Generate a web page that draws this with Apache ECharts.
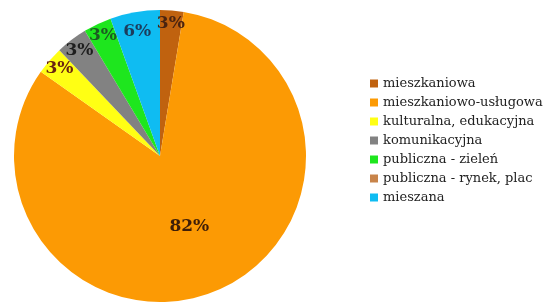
<!DOCTYPE html>
<html>
<head>
<meta charset="utf-8">
<script src="https://cdn.jsdelivr.net/npm/echarts@6/dist/echarts.min.js"></script>
<style>
  html, body { margin: 0; padding: 0; background: #fff; }
  #chart { width: 545px; height: 306px; }
</style>
</head>
<body>
<div id="chart"></div>
<script>
// kategorie i udzialy
var categories = ['mieszkaniowa', 'mieszkaniowo-usługowa', 'kulturalna, edukacyjna', 'komunikacyjna', 'publiczna - zieleń', 'publiczna - rynek, plac', 'mieszana'];
var values = [2.6, 82.2, 3.1, 3.5, 3.1, 0, 5.5];
var labels = ['3%', '82%', '3%', '3%', '3%', '', '6%'];
var colors = ['#c0620f', '#fc9a04', '#ffff14', '#828282', '#1ee61e', '#c8844a', '#0fbcf2'];
var labelColors = ['#4a2410', '#3e1e08', '#6a2412', '#1e1e1e', '#1c5a22', '', '#1c3c5c'];

var chart = echarts.init(document.getElementById('chart'));

// glowny wykres kolowy
var mainData = categories.map(function (name, i) {
  return {
    name: name,
    value: values[i],
    itemStyle: { color: colors[i] },
    label: { show: i === 1, formatter: labels[i], color: labelColors[i] }
  };
});

// przezroczysta warstwa tylko do etykiet malych wycinkow (blizej krawedzi)
var labelData = categories.map(function (name, i) {
  return {
    name: name,
    value: values[i],
    label: {
      show: i !== 1 && values[i] > 0,
      formatter: labels[i],
      color: labelColors[i],
      offset: i === 6 ? [0, 7] : [0, 0]
    }
  };
});

var labelFont = {
  position: 'inside',
  fontFamily: 'DejaVu Serif',
  fontWeight: 'bold',
  fontSize: 17
};

var option = {
  backgroundColor: '#fff',
  animation: false,
  legend: {
    orient: 'vertical',
    left: 365,
    top: 72,
    itemWidth: 8,
    itemHeight: 8,
    itemGap: 6,
    icon: 'rect',
    data: categories,
    textStyle: { fontFamily: 'DejaVu Serif', fontSize: 13, color: '#222' }
  },
  series: [
    {
      type: 'pie',
      center: [160, 156],
      radius: [0, 146],
      startAngle: 90,
      clockwise: true,
      avoidLabelOverlap: false,
      label: labelFont,
      labelLine: { show: false },
      labelLayout: { hideOverlap: false },
      itemStyle: { borderWidth: 0 },
      data: mainData
    },
    {
      type: 'pie',
      center: [160, 156],
      radius: [0, 260],
      startAngle: 90,
      clockwise: true,
      silent: true,
      avoidLabelOverlap: false,
      minShowLabelAngle: 0,
      itemStyle: { color: 'rgba(0,0,0,0)', borderWidth: 0 },
      label: labelFont,
      labelLine: { show: false },
      labelLayout: { hideOverlap: false },
      data: labelData
    }
  ]
};

chart.setOption(option);
</script>
</body>
</html>
